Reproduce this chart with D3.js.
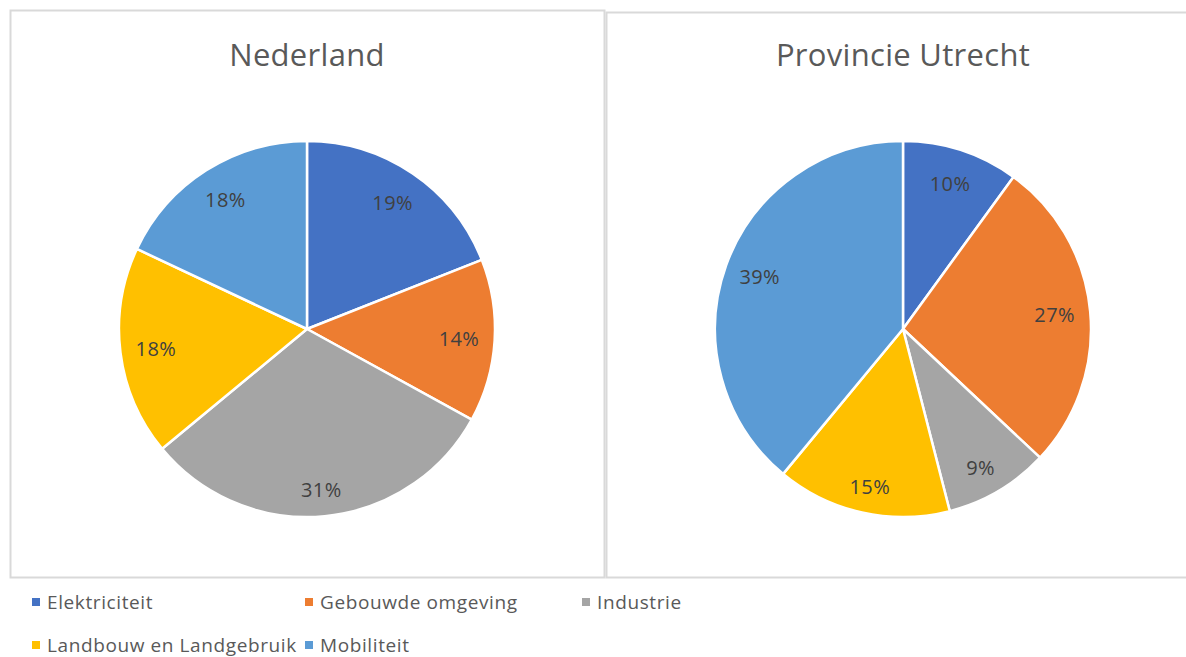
<!DOCTYPE html>
<html>
<head>
<meta charset="utf-8">
<script src="https://cdn.jsdelivr.net/npm/d3@7"></script>
<style>
  body { margin: 0; background: #fff; }
  svg text { font-family: "Open Sans", "Noto Sans", sans-serif; }
</style>
</head>
<body>
<svg id="chart" width="1186" height="657"></svg>
<script>
var categories = ["Elektriciteit", "Gebouwde omgeving", "Industrie", "Landbouw en Landgebruik", "Mobiliteit"];
var colors = ["#4472C4", "#ED7D31", "#A5A5A5", "#FFC000", "#5B9BD5"];
var titles = ["Nederland", "Provincie Utrecht"];
var nederland = [19, 14, 31, 18, 18];
var utrecht = [10, 27, 9, 15, 39];

var svg = d3.select("#chart");

// panel frames
var panels = [
  {x: 10, y: 10, w: 594, h: 567, cx: 307, cy: 329, values: nederland, title: titles[0]},
  {x: 606, y: 12, w: 600, h: 565, cx: 903, cy: 329, values: utrecht, title: titles[1]}
];

var radius = 188;
var pie = d3.pie().sort(null).value(function(d) { return d; });
var arc = d3.arc().innerRadius(0).outerRadius(radius);
var labelArc = d3.arc().innerRadius(radius * 0.81).outerRadius(radius * 0.81);
var color = d3.scaleOrdinal().domain(categories).range(colors);

// excel pushes the lower labels a bit further out
function labelPos(d) {
  var c = labelArc.centroid(d);
  var push = c[1] > 0 ? c[1] * 0.06 : 0;
  return [c[0], c[1] + push];
}

panels.forEach(function(p) {
  svg.append("rect")
    .attr("x", p.x + 0.5)
    .attr("y", p.y + 0.5)
    .attr("width", p.w)
    .attr("height", p.h)
    .attr("fill", "#fff")
    .attr("stroke", "#d9d9d9")
    .attr("stroke-width", 2);

  svg.append("text")
    .attr("x", p.cx)
    .attr("y", 66)
    .attr("text-anchor", "middle")
    .attr("fill", "#595959")
    .style("font-size", "31px")
    .style("letter-spacing", "0.3px")
    .text(p.title);

  var g = svg.append("g")
    .attr("transform", "translate(" + p.cx + "," + p.cy + ")");

  var arcs = pie(p.values);

  g.selectAll("path")
    .data(arcs)
    .enter()
    .append("path")
    .attr("d", arc)
    .attr("fill", function(d, i) { return color(categories[i]); })
    .attr("stroke", "#fff")
    .attr("stroke-width", 2.5)
    .attr("stroke-linejoin", "round");

  g.selectAll(".lbl")
    .data(arcs)
    .enter()
    .append("text")
    .attr("class", "lbl")
    .attr("transform", function(d) { return "translate(" + labelPos(d) + ")"; })
    .attr("text-anchor", "middle")
    .attr("dy", "0.35em")
    .attr("fill", "#404040")
    .style("font-size", "20px")
    .style("letter-spacing", "0.4px")
    .text(function(d) { return d.data + "%"; });
});

// legend
var legendPos = [
  {x: 32, y: 602}, {x: 305, y: 602}, {x: 582, y: 602},
  {x: 32, y: 645}, {x: 305, y: 645}
];

var legend = svg.selectAll(".legend")
  .data(categories)
  .enter()
  .append("g")
  .attr("class", "legend")
  .attr("transform", function(d, i) { return "translate(" + legendPos[i].x + "," + legendPos[i].y + ")"; });

legend.append("rect")
  .attr("x", 0)
  .attr("y", -4)
  .attr("width", 8)
  .attr("height", 8)
  .attr("fill", function(d) { return color(d); });

legend.append("text")
  .attr("x", 15)
  .attr("dy", "0.35em")
  .attr("fill", "#595959")
  .style("font-size", "19px")
  .style("letter-spacing", "0.6px")
  .text(function(d) { return d; });
</script>
</body>
</html>
